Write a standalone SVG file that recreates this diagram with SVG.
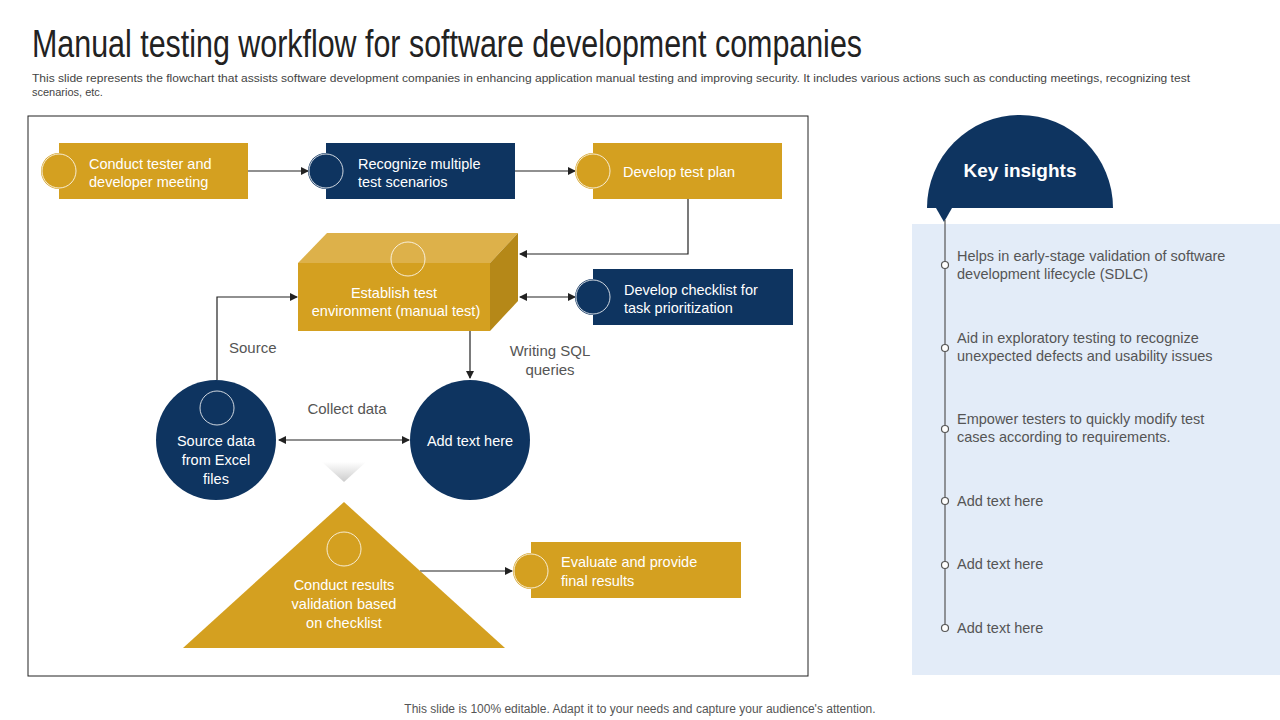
<svg xmlns="http://www.w3.org/2000/svg" width="1280" height="720" viewBox="0 0 1280 720">
<style>
.t{font-family:"Liberation Sans",Arial,sans-serif}
.w{fill:#fff;font-size:14.5px}
.g{fill:#555;font-size:15px}
.gold{fill:#D4A020}.navy{fill:#0E3460}
.ic{stroke:#fff;stroke-width:1;fill:none;opacity:.8}
.ln{stroke:#222;stroke-width:1.2;fill:none}
.r{fill:#555;font-size:14.5px}
</style>
<defs>
<marker id="a" markerWidth="8" markerHeight="8" refX="7" refY="4" orient="auto-start-reverse" markerUnits="userSpaceOnUse"><path d="M0,0L8,4L0,8z" fill="#222"/></marker>
<linearGradient id="sg" x1="0" y1="0" x2="0" y2="1"><stop offset="0" stop-color="#fff"/><stop offset="1" stop-color="#ccc"/></linearGradient>
</defs>
<rect width="1280" height="720" fill="#fff"/>
<text class="t" x="32" y="57" font-size="38" fill="#222" textLength="830" lengthAdjust="spacingAndGlyphs">Manual testing workflow for software development companies</text>
<text class="t" x="32" y="82" font-size="11" fill="#444" textLength="1158" lengthAdjust="spacingAndGlyphs">This slide represents the flowchart that assists software development companies in enhancing application manual testing and improving security. It includes various actions such as conducting meetings, recognizing test</text>
<text class="t" x="32" y="96" font-size="11" fill="#444">scenarios, etc.</text>
<rect x="28" y="116" width="780" height="560" fill="none" stroke="#222" stroke-width="1"/>
<g id="connectors">
<line class="ln" x1="248" y1="171" x2="308" y2="171" marker-end="url(#a)"/>
<line class="ln" x1="515" y1="171" x2="575" y2="171" marker-end="url(#a)"/>
<polyline class="ln" points="688,199 688,254 520,254" marker-end="url(#a)"/>
<line class="ln" x1="520" y1="297" x2="575" y2="297" marker-start="url(#a)" marker-end="url(#a)"/>
<line class="ln" x1="470" y1="331" x2="470" y2="378" marker-end="url(#a)"/>
<polyline class="ln" points="217,380 217,297 297,297" marker-end="url(#a)"/>
<line class="ln" x1="279" y1="440" x2="409" y2="440" marker-start="url(#a)" marker-end="url(#a)"/>
<line class="ln" x1="420" y1="571" x2="512" y2="571" marker-end="url(#a)"/>
<text class="t g" x="229" y="353">Source</text>
<text class="t g" x="550" y="356" text-anchor="middle">Writing SQL</text>
<text class="t g" x="550" y="375" text-anchor="middle">queries</text>
<text class="t g" x="347" y="414" text-anchor="middle">Collect data</text>
</g>
<g id="n1"><rect class="gold" x="59" y="143" width="189" height="56"/><circle class="gold" cx="59" cy="171" r="18"/><circle class="ic" cx="59" cy="171" r="17"/>
<text class="t w" x="89" y="169">Conduct tester and</text><text class="t w" x="89" y="187">developer meeting</text></g>
<g id="n2"><rect class="navy" x="326" y="143" width="189" height="56"/><circle class="navy" cx="326" cy="171" r="18"/><circle class="ic" cx="326" cy="171" r="17"/>
<text class="t w" x="358" y="169">Recognize multiple</text><text class="t w" x="358" y="187">test scenarios</text></g>
<g id="n3"><rect class="gold" x="593" y="143" width="189" height="56"/><circle class="gold" cx="593" cy="171" r="18"/><circle class="ic" cx="593" cy="171" r="17"/>
<text class="t w" x="623" y="177">Develop test plan</text></g>
<g id="n4"><polygon points="298,263 327,233 518,233 490,263" fill="#DDB14A"/><polygon points="490,263 518,233 518,301 490,331" fill="#B58818"/><rect class="gold" x="298" y="263" width="192" height="68"/>
<circle class="ic" cx="408" cy="259" r="17"/>
<text class="t w" x="394" y="298" text-anchor="middle">Establish test</text><text class="t w" x="396" y="316" text-anchor="middle">environment (manual test)</text></g>
<g id="n5"><rect class="navy" x="593" y="269" width="200" height="56"/><circle class="navy" cx="593" cy="297" r="18"/><circle class="ic" cx="593" cy="297" r="17"/>
<text class="t w" x="624" y="295">Develop checklist for</text><text class="t w" x="624" y="313">task prioritization</text></g>
<g id="n6"><circle class="navy" cx="216" cy="440" r="60"/><circle class="ic" cx="217" cy="408" r="17"/>
<text class="t w" x="216" y="446" text-anchor="middle" font-size="15.5">Source data</text><text class="t w" x="216" y="465" text-anchor="middle" font-size="15.5">from Excel</text><text class="t w" x="216" y="484" text-anchor="middle" font-size="15.5">files</text></g>
<g id="n7"><circle class="navy" cx="470" cy="440" r="60"/><text class="t w" x="470" y="446" text-anchor="middle" font-size="15.5">Add text here</text></g>
<polygon points="322,462 366,462 344,482" fill="url(#sg)"/>
<g id="n8"><polygon class="gold" points="183,648 505,648 344,502"/><circle class="ic" cx="344" cy="549" r="17"/>
<text class="t w" x="344" y="590" text-anchor="middle" font-size="15.5">Conduct results</text><text class="t w" x="344" y="609" text-anchor="middle" font-size="15.5">validation based</text><text class="t w" x="344" y="628" text-anchor="middle" font-size="15.5">on checklist</text></g>
<g id="n9"><rect class="gold" x="531" y="542" width="210" height="56"/><circle class="gold" cx="531" cy="571" r="18"/><circle class="ic" cx="531" cy="571" r="17"/>
<text class="t w" x="561" y="567" font-size="15.5">Evaluate and provide</text><text class="t w" x="561" y="586" font-size="15.5">final results</text></g>
<g id="insights">
<rect x="912" y="224" width="368" height="451" fill="#E3ECF8"/>
<path d="M927,208 A93,93 0 0 1 1113,208 Z" class="navy"/>
<polygon points="936,208 952,208 944,222" class="navy"/>
<text class="t" x="1020" y="177" text-anchor="middle" font-size="19" font-weight="bold" fill="#fff">Key insights</text>
<line x1="945" y1="220" x2="945" y2="628" stroke="#555" stroke-width="1.2"/>
<g fill="#fff" stroke="#555" stroke-width="1.2"><circle cx="945" cy="265" r="3.5"/><circle cx="945" cy="348" r="3.5"/><circle cx="945" cy="429" r="3.5"/><circle cx="945" cy="501" r="3.5"/><circle cx="945" cy="565" r="3.5"/><circle cx="945" cy="628" r="3.5"/></g>
<text class="t r" x="957" y="261">Helps in early-stage validation of software</text><text class="t r" x="957" y="279">development lifecycle (SDLC)</text>
<text class="t r" x="957" y="343">Aid in exploratory testing to recognize</text><text class="t r" x="957" y="361">unexpected defects and usability issues</text>
<text class="t r" x="957" y="424">Empower testers to quickly modify test</text><text class="t r" x="957" y="442">cases according to requirements.</text>
<text class="t r" x="957" y="506">Add text here</text>
<text class="t r" x="957" y="569">Add text here</text>
<text class="t r" x="957" y="633">Add text here</text>
</g>
<text class="t" x="640" y="713" text-anchor="middle" font-size="12" fill="#555">This slide is 100% editable. Adapt it to your needs and capture your audience's attention.</text>
</svg>
